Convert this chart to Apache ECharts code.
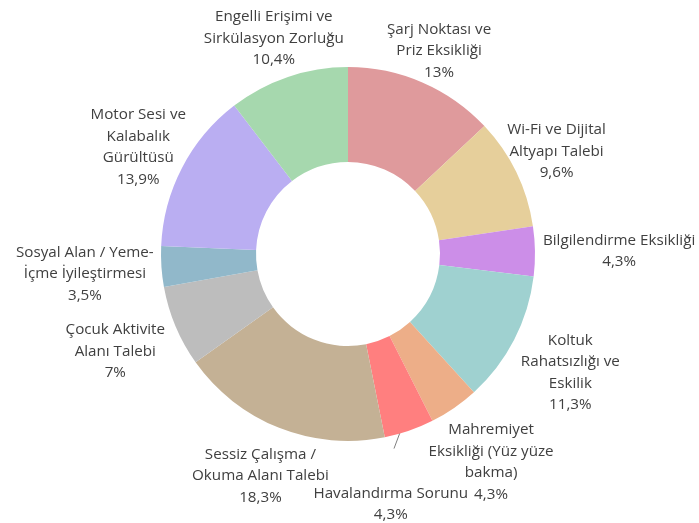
<!DOCTYPE html>
<html>
<head>
<meta charset="utf-8">
<script src="https://cdn.jsdelivr.net/npm/echarts@6/dist/echarts.min.js"></script>
<style>
html,body{margin:0;padding:0;background:#fff;}
#chart{width:699px;height:523px;}
</style>
</head>
<body>
<div id="chart"></div>
<script>
// ---- data ----
const categories = [
  "Şarj Noktası ve\nPriz Eksikliği",
  "Wi-Fi ve Dijital\nAltyapı Talebi",
  "Bilgilendirme Eksikliği",
  "Koltuk\nRahatsızlığı ve\nEskilik",
  "Mahremiyet\nEksikliği (Yüz yüze\nbakma)",
  "Havalandırma Sorunu",
  "Sessiz Çalışma /\nOkuma Alanı Talebi",
  "Çocuk Aktivite\nAlanı Talebi",
  "Sosyal Alan / Yeme-\nİçme İyileştirmesi",
  "Motor Sesi ve\nKalabalık\nGürültüsü",
  "Engelli Erişimi ve\nSirkülasyon Zorluğu"
];
const values = [13, 9.6, 4.3, 11.3, 4.3, 4.3, 18.3, 7, 3.5, 13.9, 10.4];
const colors = ["#DF9A9C", "#E6CF9B", "#CC8EE8", "#9FD1D0", "#EDAE88", "#FF7F7F",
                "#C4B195", "#BDBDBD", "#91B8CA", "#BAAEF2", "#A6D8AE"];

// ---- layout (label placement fine-tuning, px) ----
const CX = 348, CY = 254, R_OUT = 187, R_IN = 92, GAP = 6, LABEL_DY = 4;
const nudges = [[0, 3], [-7, -2], [2, -3], [8, 4], [5, 4], [-31, 33],
                [-2, 2], [-11, 0], [-2, -2], [3, 0], [0, -1]];
const leaderIndex = 5;

const total = values.reduce((a, b) => a + b, 0);
const midAngles = [];
let acc = 0;
values.forEach(v => { midAngles.push((acc + v / 2) / total * 2 * Math.PI); acc += v; });

const chart = echarts.init(document.getElementById('chart'));
chart.setOption({
  animation: false,
  color: colors,
  series: [{
    type: 'pie',
    center: [CX, CY],
    radius: [R_IN, R_OUT],
    startAngle: 90,
    clockwise: true,
    avoidLabelOverlap: false,
    emphasis: {disabled: true},
    label: {
      show: true,
      position: 'outside',
      color: '#404040',
      fontFamily: 'Open Sans',
      fontSize: 15.2,
      lineHeight: 21.5,
      align: 'center',
      formatter: p => p.name + '\n' + String(p.value).replace('.', ',') + '%'
    },
    labelLine: {show: false},
    labelLayout: function (p) {
      const i = p.dataIndex;
      const a = midAngles[i];
      const s = Math.sin(a), c = Math.cos(a);
      const w = p.labelRect.width, h = p.labelRect.height;
      const d = R_OUT + GAP + Math.sqrt(Math.pow(w / 2 * s, 2) + Math.pow(h / 2 * c, 2));
      const n = nudges[i] || [0, 0];
      const x = CX + d * s + n[0], y = CY - d * c + LABEL_DY + n[1];
      const out = {x: x, y: y, align: 'center', verticalAlign: 'middle'};
      if (i === leaderIndex) {
        const sx = CX + (R_OUT - 1) * Math.sin(a + 0.05), sy = CY - (R_OUT - 1) * Math.cos(a + 0.05);
        out.labelLinePoints = [[sx, sy], [sx - 6, sy + 16], [sx - 6, sy + 16]];
      }
      return out;
    },
    data: categories.map((name, i) => {
      const item = {name: name, value: values[i]};
      if (i === leaderIndex) {
        item.labelLine = {show: true, length: 5, length2: 5, lineStyle: {color: '#7F7F7F', width: 1}};
      }
      return item;
    })
  }]
});
</script>
</body>
</html>
